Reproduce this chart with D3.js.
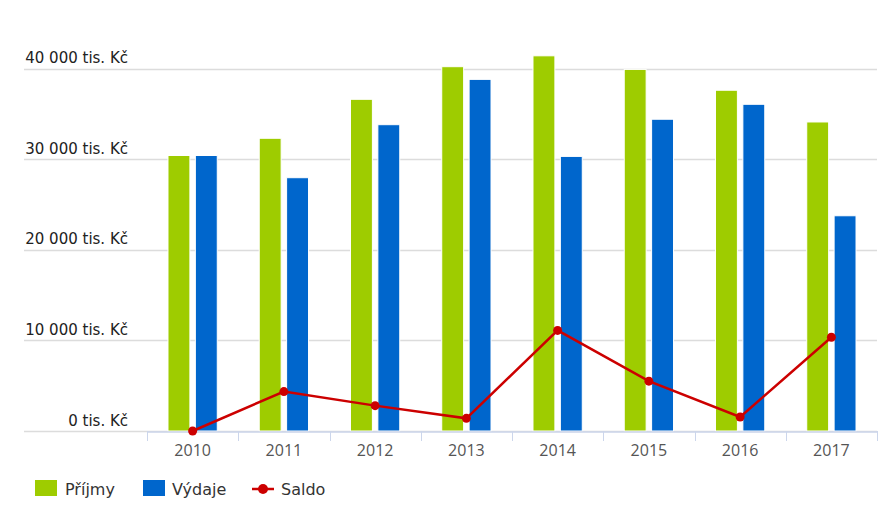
<!DOCTYPE html>
<html>
<head>
<meta charset="utf-8">
<script src="https://cdn.jsdelivr.net/npm/d3@7"></script>
<style>
  html, body { margin: 0; padding: 0; background: #fff; }
  svg { display: block; }
</style>
</head>
<body>
<svg id="chart" width="891" height="519"></svg>
<script>
const years = ["2010", "2011", "2012", "2013", "2014", "2015", "2016", "2017"];
const prijmy = [30400, 32300, 36600, 40200, 41400, 39900, 37600, 34100];
const vydaje = [30400, 27950, 33800, 38800, 30300, 34400, 36050, 23750];
const saldo  = [0, 4350, 2800, 1400, 11100, 5500, 1550, 10350];
const yTicks = [0, 10000, 20000, 30000, 40000];
const seriesNames = ["Příjmy", "Výdaje", "Saldo"];
const colors = { prijmy: "#9ecc00", vydaje: "#0066cc", saldo: "#cc0000" };

(function () {
const svg = d3.select("#chart");
const plotLeft = 147, plotRight = 877, plotBottom = 431, plotTop = 68.5;
const font = "'DejaVu Sans', Verdana, sans-serif";

const x = d3.scaleBand().domain(years).range([plotLeft, plotRight]).paddingInner(0).paddingOuter(0);
const bw = x.bandwidth();
const x1 = d3.scaleBand().domain(["p", "v"]).range([0.2 * bw, 0.8 * bw]).paddingInner(0.2).paddingOuter(0.1);
const y = d3.scaleLinear().domain([0, 40000]).range([plotBottom, plotTop]);

const fmt = v => d3.format(",")(v).replace(/,/g, " ") + " tis. Kč";

// gridlines
svg.append("g").selectAll("line").data(yTicks).join("line")
  .attr("x1", 24).attr("x2", plotRight)
  .attr("y1", d => Math.round(y(d)) + 0.5).attr("y2", d => Math.round(y(d)) + 0.5)
  .attr("stroke", "#dcdcdc").attr("stroke-width", 1.3);

// y labels
svg.append("g").selectAll("text").data(yTicks).join("text")
  .attr("x", 128).attr("y", d => y(d) - 5.5)
  .attr("text-anchor", "end")
  .attr("font-family", font).attr("font-size", 15)
  .attr("fill", "#222")
  .text(fmt);

// bars
const rows = years.map((yr, i) => ({ yr, p: prijmy[i], v: vydaje[i], s: saldo[i] }));
const g = svg.append("g");
g.selectAll("rect.p").data(rows).join("rect").attr("class", "p")
  .attr("x", d => x(d.yr) + x1("p")).attr("width", x1.bandwidth())
  .attr("y", d => y(d.p)).attr("height", d => y(0) - y(d.p))
  .attr("fill", colors.prijmy).attr("stroke", "#fff").attr("stroke-width", 1);
g.selectAll("rect.v").data(rows).join("rect").attr("class", "v")
  .attr("x", d => x(d.yr) + x1("v")).attr("width", x1.bandwidth())
  .attr("y", d => y(d.v)).attr("height", d => y(0) - y(d.v))
  .attr("fill", colors.vydaje).attr("stroke", "#fff").attr("stroke-width", 1);

// x axis
const xAxis = d3.axisBottom(x).tickSize(0).tickPadding(13);
const ax = svg.append("g").attr("transform", `translate(0,${Math.round(plotBottom) + 0.5})`).call(xAxis);
ax.select(".domain").attr("stroke", "#ccd6eb").attr("stroke-width", 1.5);
ax.selectAll("text").attr("font-family", "'Open Sans', sans-serif").attr("font-size", 16).attr("fill", "#555");
// boundary ticks
svg.append("g").selectAll("line").data(years.concat(["end"])).join("line")
  .attr("x1", (d, i) => Math.round(plotLeft + i * bw) + 0.5).attr("x2", (d, i) => Math.round(plotLeft + i * bw) + 0.5)
  .attr("y1", plotBottom).attr("y2", plotBottom + 10)
  .attr("stroke", "#ccd6eb").attr("stroke-width", 1);

// saldo line
const line = d3.line().x(d => x(d.yr) + bw / 2).y(d => y(d.s));
svg.append("path").datum(rows).attr("d", line)
  .attr("fill", "none").attr("stroke", colors.saldo).attr("stroke-width", 2.5);
svg.append("g").selectAll("circle").data(rows).join("circle")
  .attr("cx", d => x(d.yr) + bw / 2).attr("cy", d => y(d.s)).attr("r", 4.5)
  .attr("fill", colors.saldo);

// legend
const lg = svg.append("g").attr("font-family", font).attr("font-size", 16).attr("fill", "#333");
lg.append("rect").attr("x", 35).attr("y", 480).attr("width", 22).attr("height", 16).attr("fill", colors.prijmy);
lg.append("text").attr("x", 65).attr("y", 495).text(seriesNames[0]);
lg.append("rect").attr("x", 143).attr("y", 480).attr("width", 22).attr("height", 16).attr("fill", colors.vydaje);
lg.append("text").attr("x", 172).attr("y", 495).text(seriesNames[1]);
lg.append("line").attr("x1", 252).attr("x2", 274).attr("y1", 489).attr("y2", 489).attr("stroke", colors.saldo).attr("stroke-width", 2.5);
lg.append("circle").attr("cx", 263).attr("cy", 489).attr("r", 5).attr("fill", colors.saldo);
lg.append("text").attr("x", 281).attr("y", 495).text(seriesNames[2]);
})();
</script>
</body>
</html>
